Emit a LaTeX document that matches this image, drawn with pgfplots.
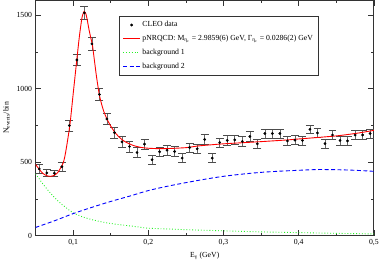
\documentclass[border=0pt]{standalone}
\usepackage{fontspec}
\setmainfont{Liberation Serif}
\usepackage{pgfplots}
\pgfplotsset{compat=1.18}
\usepackage{pgfplotstable}

\pgfplotstableread{
x y e
0.055 453 30
0.065 426 22
0.075 424 22
0.085 468 28
0.095 748 38
0.105 1195 40
0.115 1515 45
0.125 1304 42
0.135 960 40
0.145 793 38
0.155 700 36
0.165 637 37
0.175 606 37
0.185 565 35
0.195 622 32
0.205 516 31
0.215 570 32
0.225 581 32
0.235 572 32
0.245 527 32
0.255 599 32
0.265 590 32
0.275 654 32
0.285 527 31
0.295 633 32
0.305 647 32
0.315 651 32
0.325 640 32
0.335 674 32
0.345 624 32
0.355 694 31
0.365 694 31
0.375 694 31
0.385 644 31
0.395 649 31
0.405 647 31
0.415 723 30
0.425 698 30
0.435 626 30
0.445 684 30
0.455 647 30
0.465 644 30
0.475 684 30
0.485 684 30
0.495 694 30
}\cleo

\pgfplotstableread{
x y
0.050 485
0.055 450
0.060 422
0.065 407
0.070 403
0.075 410
0.080 432
0.0867 493
0.090 565
0.0956 748
0.100 960
0.105 1200
0.108 1340
0.110 1420
0.112 1488
0.1145 1524
0.117 1508
0.119 1462
0.121 1405
0.1235 1345
0.1256 1300
0.128 1205
0.131 1085
0.1348 960
0.138 892
0.141 842
0.145 793
0.150 745
0.155 706
0.160 676
0.165 653
0.170 636
0.180 613
0.190 600
0.200 594
0.220 591
0.250 598
0.267 610
0.300 624
0.350 639
0.386 651
0.400 657
0.450 678
0.480 698
0.500 716
}\fit

\pgfplotstableread{
x y
0.050 420
0.055 385
0.060 350
0.065 318
0.070 288
0.075 260
0.080 235
0.085 212
0.090 192
0.095 172
0.100 155
0.110 132
0.120 115
0.130 102
0.140 91
0.150 82
0.160 75
0.170 69
0.180 63
0.190 56
0.200 50
0.225 45
0.250 40
0.275 36
0.300 32
0.350 25
0.400 20
0.450 15
0.500 11
}\bgone

\pgfplotstableread{
x y
0.050 55
0.075 100
0.100 149
0.125 192
0.150 232
0.175 268
0.200 306
0.225 335
0.250 360
0.275 383
0.300 403
0.325 418
0.350 430
0.375 438
0.400 444
0.425 449
0.450 448
0.475 444
0.500 437
}\bgtwo

\definecolor{bggreen}{rgb}{0.15,0.95,0.15}

\begin{document}
\begin{tikzpicture}
\begin{axis}[
  scale only axis, width=341pt, height=237pt,
  xmin=0.05, xmax=0.5, ymin=0, ymax=1600,
  xtick={0.1,0.2,0.3,0.4,0.5}, ytick={0,500,1000,1500},
  minor x tick num=1, minor y tick num=1,
  major tick length=6pt, minor tick length=3pt,
  tick align=inside, tick style={black!80, line width=0.6pt},
  axis line style={black!80, line width=0.8pt},
  /pgf/number format/assume math mode=true,
  xticklabel style={/pgf/number format/.cd, fixed, fixed zerofill, precision=1, use comma, 1000 sep={}},
  yticklabel style={/pgf/number format/.cd, fixed, 1000 sep={}},
  tick label style={font=\fontsize{7.8}{9}\selectfont},
  label style={font=\fontsize{7.8}{9}\selectfont},
  xlabel={E\textsubscript{γ} (GeV)},
  ylabel={N\textsubscript{events}/bin},
  legend style={at={(axis description cs:0.248,0.932)}, anchor=north west,
    font=\fontsize{7.8}{9}\selectfont, draw=black!80, line width=0.5pt,
    inner sep=3pt, row sep=3pt},
  legend cell align=left,
]
\addplot[black, only marks, mark=*, mark size=1.2pt,
  error bars/.cd, y dir=both, y explicit,
  error bar style={black!60, line width=0.6pt},
  error mark options={rotate=90, mark size=4pt, black!70, line width=0.6pt}]
  table[x=x, y=y, y error=e] {\cleo};
\addlegendentry{CLEO data}
\addplot[red, line width=0.9pt, smooth, tension=0.4] table[x=x, y=y] {\fit};
\addlegendentry{pNRQCD: M\textsubscript{η\textsubscript{c}} = 2.9859(6) GeV, Γ\textsubscript{η\textsubscript{c}} = 0.0286(2) GeV}
\addplot[bggreen, line width=0.9pt, dotted, smooth] table[x=x, y=y] {\bgone};
\addlegendentry{background 1}
\addplot[blue, line width=0.9pt, dash pattern=on 4pt off 2.5pt, smooth] table[x=x, y=y] {\bgtwo};
\addlegendentry{background 2}
\end{axis}
\end{tikzpicture}
\end{document}
